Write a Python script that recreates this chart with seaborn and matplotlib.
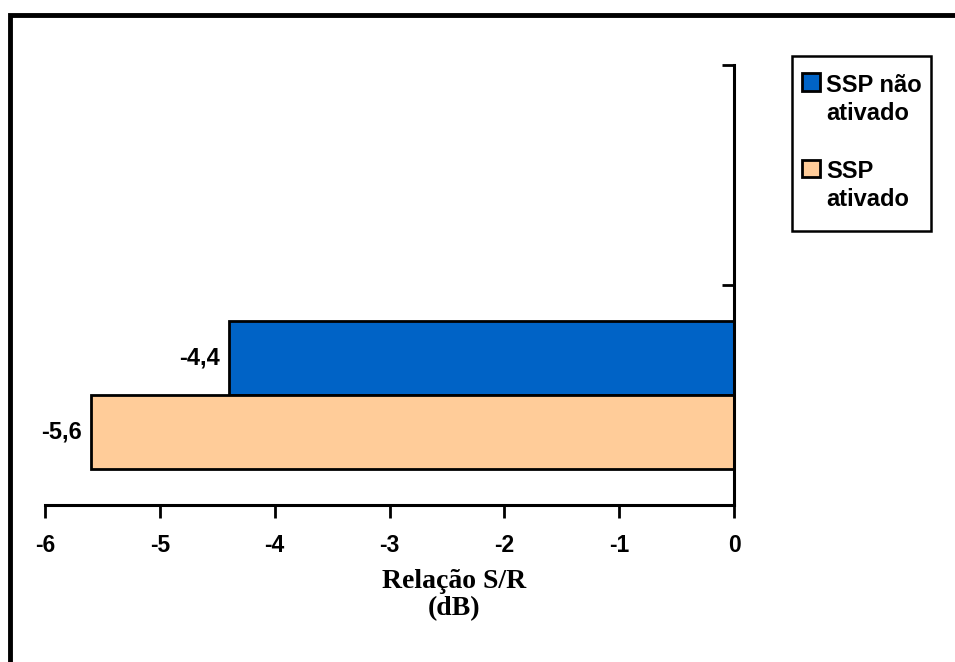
import matplotlib
matplotlib.use("Agg")
import matplotlib.pyplot as plt
import seaborn as sns
import pandas as pd
from matplotlib.patches import Rectangle
from matplotlib.legend_handler import HandlerPatch

series = ["SSP não\nativado", "SSP\nativado"]
values = [-4.4, -5.6]
value_labels = ["-4,4", "-5,6"]
category = [""]
xticks = [-6, -5, -4, -3, -2, -1, 0]
colors = ["#0063C6", "#FFCC99"]

df = pd.DataFrame({"cat": category * len(series), "serie": series, "valor": values})

sns.set_theme(style="white")
plt.rcParams["font.family"] = ["Liberation Sans", "DejaVu Sans"]
plt.rcParams["axes.unicode_minus"] = False
plt.rcParams["text.color"] = "black"

fig = plt.figure(figsize=(9.55, 6.62), dpi=100)
ax = fig.add_axes([45 / 955, 1 - 505 / 662, (734 - 45) / 955, (505 - 65) / 662])

sns.barplot(data=df, x="valor", y="cat", hue="serie", hue_order=series,
            palette=colors, orient="h", width=0.67, edgecolor="black",
            linewidth=2.0, saturation=1, legend=True, ax=ax)

ax.set_xlim(-6, 0)
ax.set_ylim(0.5, -1.5)
ax.set_yticks([0.5, -0.5, -1.5])
ax.set_yticklabels([])
ax.yaxis.tick_right()
ax.set_ylabel("")
ax.set_xticks(xticks)
ax.set_xticklabels([str(t) for t in xticks], fontsize=16.5, fontweight="bold",
                   color="black")
ax.tick_params(axis="x", direction="out", length=9, width=2, pad=12,
               bottom=True, colors="black")
ax.tick_params(axis="y", direction="in", length=9, width=2, right=True,
               left=False, colors="black")
for s in ["left", "top"]:
    ax.spines[s].set_visible(False)
for s in ["bottom", "right"]:
    ax.spines[s].set_visible(True)
    ax.spines[s].set_color("black")
    ax.spines[s].set_linewidth(2.2)

ax.set_xlabel("Relação S/R\n(dB)", fontsize=20, fontweight="bold",
              family=["Liberation Serif", "DejaVu Serif"], color="black",
              linespacing=1.12)
ax.xaxis.set_label_coords((454 - 45) / 689, -0.145)
ax.xaxis.label.set_verticalalignment("top")

for cont, lab in zip(ax.containers, value_labels):
    ax.bar_label(cont, labels=[lab], padding=6.5, fontsize=17, fontweight="bold",
                 color="black")


def top_square(legend, orig_handle, xdescent, ydescent, width, height, fontsize):
    return Rectangle((-xdescent, -ydescent + 0.78 * fontsize), width, height)


handles, labels = ax.get_legend_handles_labels()
ax.get_legend().remove()
leg = fig.legend(handles, labels, loc="upper left",
                 bbox_to_anchor=(802 / 955, 1 - 74 / 662), borderaxespad=0,
                 frameon=False, prop={"weight": "bold", "size": 17},
                 handlelength=0.76, handleheight=0.76, handletextpad=0.25,
                 labelspacing=1.5, borderpad=0,
                 handler_map={h: HandlerPatch(patch_func=top_square) for h in handles})
for t in leg.get_texts():
    t.set_linespacing(1.28)
    t.set_color("black")

fig.patches.append(Rectangle((792 / 955, 1 - 231 / 662), (931 - 792) / 955,
                             (231 - 56) / 662, transform=fig.transFigure,
                             fill=False, edgecolor="black", linewidth=1.8))

fig.patches.append(Rectangle((9.5 / 955, -0.1), 1.2, 1 - 15 / 662 + 0.1,
                             transform=fig.transFigure, fill=False,
                             edgecolor="black", linewidth=3.5))

fig.savefig("out.png", dpi=100, facecolor="white")
